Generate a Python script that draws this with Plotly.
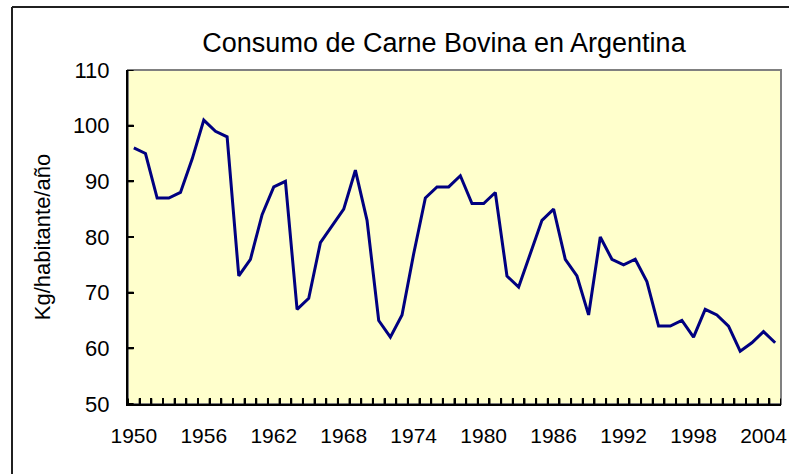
import plotly.graph_objects as go

years = list(range(1950, 2006))
consumo = [96, 95, 87, 87, 88, 94, 101, 99, 98, 73,
           76, 84, 89, 90, 67, 69, 79, 82, 85, 92,
           83, 65, 62, 66, 77, 87, 89, 89, 91, 86,
           86, 88, 73, 71, 77, 83, 85, 76, 73, 66,
           80, 76, 75, 76, 72, 64, 64, 65, 62, 67,
           66, 64, 59.5, 61, 63, 61]
tick_years = list(range(1950, 2005, 6))
tick_labels = [str(y) for y in tick_years]
y_ticks = [50, 60, 70, 80, 90, 100, 110]
boundaries = [y - 0.5 for y in range(1950, 2007)]

FONT = "Liberation Sans, Arial, sans-serif"

W, H = 789, 474
PL, PR, PT, PB = 128, 781, 70, 404          # plot area in window px
L, R, T, B = PL, W - PR, PT, H - PB
pw, ph = PR - PL, PB - PT
X_RANGE = [boundaries[0], boundaries[-1]]
Y_RANGE = [y_ticks[0], y_ticks[-1]]

def px_x(x):
    return (x - PL) / pw

def px_y(y):
    return (PB - y) / ph

fig = go.Figure()
# inside tick marks (category boundaries on x, value ticks on y), clipped to the plot
fig.add_trace(go.Scatter(
    x=boundaries, y=[Y_RANGE[0]] * len(boundaries), mode="markers",
    marker=dict(symbol="line-ns", size=8, color="black",
                line=dict(width=2, color="black")),
    cliponaxis=True, showlegend=False, hoverinfo="skip",
))
fig.add_trace(go.Scatter(
    x=[X_RANGE[0]] * len(y_ticks), y=y_ticks, mode="markers",
    marker=dict(symbol="line-ew", size=8, color="black",
                line=dict(width=2, color="black")),
    cliponaxis=True, showlegend=False, hoverinfo="skip",
))
fig.add_trace(go.Scatter(
    x=years, y=consumo, mode="lines",
    line=dict(color="#000080", width=3),
    showlegend=False, hoverinfo="x+y",
))
# invisible helper trace so the label axis is drawn
fig.add_trace(go.Scatter(
    x=years, y=consumo, mode="lines", xaxis="x2", yaxis="y",
    line=dict(color="rgba(0,0,0,0)", width=0),
    showlegend=False, hoverinfo="skip",
))

fig.update_layout(
    width=W, height=H,
    margin=dict(l=L, r=R, t=T, b=B, autoexpand=False),
    paper_bgcolor="white",
    plot_bgcolor="#FFFFCC",
    font=dict(family=FONT, size=21, color="black"),
    title=dict(text="Consumo de Carne Bovina en Argentina",
               x=444 / W, xanchor="center",
               y=1 - 43 / H, yanchor="middle",
               font=dict(family=FONT, size=27, color="black")),
    xaxis=dict(
        range=X_RANGE, showgrid=False, zeroline=False,
        tickmode="array", tickvals=boundaries, ticktext=[""] * len(boundaries),
        ticks="inside", ticklen=6, tickcolor="black", tickwidth=2,
        showline=True, linecolor="black", linewidth=2,
    ),
    xaxis2=dict(
        range=X_RANGE, overlaying="x", side="bottom",
        showgrid=False, zeroline=False, showline=False,
        tickmode="array", tickvals=tick_years, ticktext=tick_labels,
        ticks="", ticklabelstandoff=17,
        tickfont=dict(family=FONT, size=21, color="black"),
    ),
    yaxis=dict(
        range=Y_RANGE, tickmode="array", tickvals=y_ticks,
        showgrid=False, zeroline=False,
        ticks="inside", ticklen=6, tickcolor="black", tickwidth=2,
        showline=True, linecolor="black", linewidth=2,
        ticklabelstandoff=12,
        tickfont=dict(family=FONT, size=22, color="black"),
        title=dict(text="Kg/habitante/año", standoff=16,
                   font=dict(family=FONT, size=22, color="black")),
    ),
    shapes=[
        dict(type="rect", xref="paper", yref="paper", x0=0, y0=0, x1=1, y1=1,
             line=dict(color="#808080", width=2), layer="below"),
        dict(type="line", xref="paper", yref="paper",
             x0=px_x(12), y0=px_y(H + 5), x1=px_x(12), y1=px_y(7),
             line=dict(color="#202020", width=2), layer="below"),
        dict(type="line", xref="paper", yref="paper",
             x0=px_x(12), y0=px_y(7), x1=px_x(W + 5), y1=px_y(7),
             line=dict(color="#202020", width=2), layer="below"),
    ],
)

fig.write_html(
    "out.html",
    config={"displayModeBar": False},
    post_script="document.body.style.margin='0';document.body.style.overflow='hidden';",
)
